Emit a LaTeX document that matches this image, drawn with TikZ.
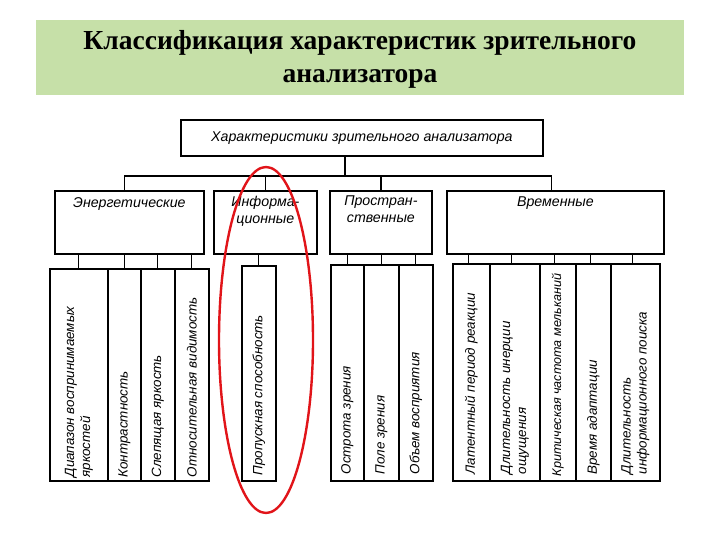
\documentclass[tikz,border=0pt]{standalone}
\usepackage{fontspec}
\setmainfont{Liberation Serif}
\newfontfamily\boxfont{Liberation Sans}
\definecolor{band}{RGB}{198,224,168}
\definecolor{ovalred}{RGB}{225,20,25}
\tikzset{
  box/.style={draw=black, line width=1.8pt, inner sep=0pt, anchor=north west},
  leafbox/.style={draw=black, line width=1.6pt, inner sep=0pt, anchor=north west},
  conn/.style={draw=black, line width=1.2pt},
  lbl/.style={font=\boxfont\itshape\fontsize{14.2}{17}\selectfont, align=center, inner sep=0pt},
  leaflbl/.style={font=\boxfont\itshape\fontsize{13.4}{16}\selectfont, align=left, inner sep=0pt, rotate=90, anchor=west},
}
\begin{document}
\begin{tikzpicture}[x=1pt,y=-1pt]
\useasboundingbox (0,0) rectangle (720,540);
% title band
\node[fill=band, minimum width=648pt, minimum height=75pt, inner sep=0pt, anchor=north west] (band) at (36,20) {};
\node[font=\bfseries\fontsize{27.5}{33}\selectfont, align=center] (title) at (360,59) {Классификация характеристик зрительного\\анализатора};
% top box
\node[box, minimum width=362pt, minimum height=36pt] (top) at (180,119) {};
\node[lbl] at (top.center) {Характеристики зрительного анализатора};
% second level
\node[box, minimum width=149pt, minimum height=63pt] (en) at (54,190) {};
\node[box, minimum width=103pt, minimum height=63pt] (inf) at (213,190) {};
\node[box, minimum width=102pt, minimum height=63pt] (sp) at (329,190) {};
\node[box, minimum width=217pt, minimum height=63pt] (tm) at (446,190) {};
\node[lbl, anchor=north] at ([yshift=-7pt]en.north) {Энергетические};
\node[lbl, anchor=north] at ([yshift=-6pt]inf.north) {Информа-\\ционные};
\node[lbl, anchor=north] at ([yshift=-6pt]sp.north) {Простран-\\ственные};
\node[lbl, anchor=north] at ([yshift=-7pt]tm.north) {Временные};
% bus
\coordinate (bus) at (345,176);
\draw[conn] (bus |- top.south) -- (bus);
\draw[conn] ([xshift=-5pt]en.north) |- (bus) -| ([xshift=-4pt]tm.north);
\draw[conn] (inf.north) -- (inf.north |- bus);
\draw[conn] (sp.north) -- (sp.north |- bus);
% leaves: energy
\node[leafbox, minimum width=58pt, minimum height=212pt] (e1) at (49,268) {};
\node[leafbox, minimum width=33pt, minimum height=212pt] (e2) at (107,268) {};
\node[leafbox, minimum width=34pt, minimum height=212pt] (e3) at (140,268) {};
\node[leafbox, minimum width=34pt, minimum height=212pt] (e4) at (174,268) {};
% info
\node[leafbox, minimum width=34pt, minimum height=215pt] (i1) at (241,265) {};
% spatial
\node[leafbox, minimum width=33pt, minimum height=216pt] (s1) at (330,264) {};
\node[leafbox, minimum width=35pt, minimum height=216pt] (s2) at (363,264) {};
\node[leafbox, minimum width=34pt, minimum height=216pt] (s3) at (398,264) {};
% temporal
\node[leafbox, minimum width=37pt, minimum height=217pt] (t1) at (452,263) {};
\node[leafbox, minimum width=50pt, minimum height=217pt] (t2) at (489,263) {};
\node[leafbox, minimum width=36pt, minimum height=217pt] (t3) at (539,263) {};
\node[leafbox, minimum width=35pt, minimum height=217pt] (t4) at (575,263) {};
\node[leafbox, minimum width=49pt, minimum height=217pt] (t5) at (610,263) {};
% stubs
\foreach \l in {e1,e2,e3,e4} \draw[conn] (\l.north) -- (\l.north |- en.south);
\draw[conn] (i1.north) -- (i1.north |- inf.south);
\foreach \l in {s1,s2,s3} \draw[conn] (\l.north) -- (\l.north |- sp.south);
\foreach \l in {t1,t2,t3,t4,t5} \draw[conn] ([xshift=-3pt]\l.north) -- ([xshift=-3pt]\l.north |- tm.south);
% leaf labels
\node[leaflbl] at ([yshift=4pt]e1.south) {Диапазон воспринимаемых\\яркостей};
\node[leaflbl] at ([yshift=4pt]e2.south) {Контрастность};
\node[leaflbl] at ([yshift=4pt]e3.south) {Слепящая яркость};
\node[leaflbl] at ([yshift=4pt]e4.south) {Относительная видимость};
\node[leaflbl] at ([yshift=6pt]i1.south) {Пропускная способность};
\node[leaflbl] at ([yshift=7pt]s1.south) {Острота зрения};
\node[leaflbl] at ([yshift=7pt]s2.south) {Поле зрения};
\node[leaflbl] at ([yshift=7pt]s3.south) {Объем восприятия};
\node[leaflbl] at ([yshift=7pt]t1.south) {Латентный период реакции};
\node[leaflbl] at ([yshift=7pt]t2.south) {Длительность инерции\\ощущения};
\node[leaflbl, font=\boxfont\itshape\fontsize{12.6}{16}\selectfont] at ([yshift=5pt]t3.south) {Критическая частота мельканий};
\node[leaflbl] at ([yshift=7pt]t4.south) {Время адаптации};
\node[leaflbl] at ([yshift=7pt]t5.south) {Длительность\\информационного поиска};
% red oval
\draw[ovalred, line width=2.4pt] (266,340) ellipse [x radius=47, y radius=173];
\end{tikzpicture}
\end{document}
